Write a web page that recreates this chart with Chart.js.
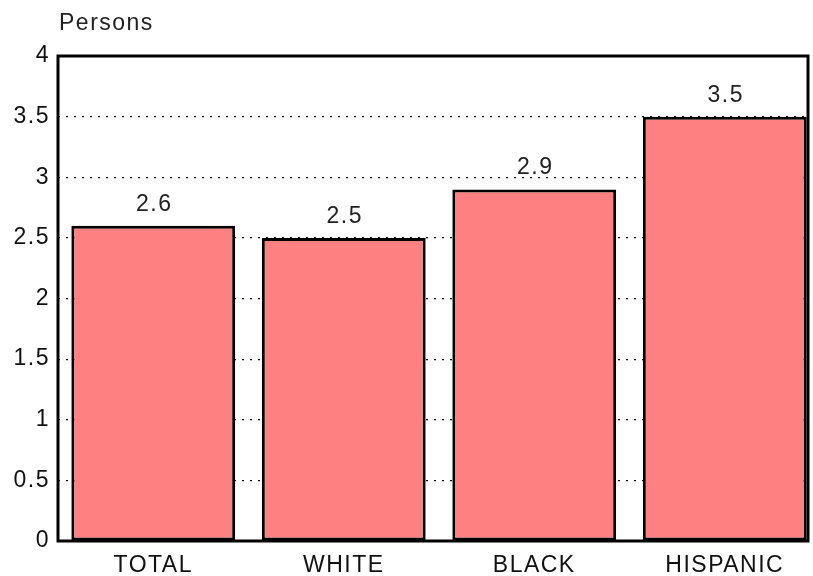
<!DOCTYPE html>
<html>
<head>
<meta charset="utf-8">
<script src="https://cdn.jsdelivr.net/npm/chart.js@4"></script>
<style>
  html, body { margin: 0; padding: 0; background: #fff; overflow: hidden; }
  #wrap { width: 813px; height: 576px; overflow: hidden; }
</style>
</head>
<body>
<div id="wrap"><canvas id="myChart" width="825" height="576"></canvas></div>
<script>
const categories = ['TOTAL', 'WHITE', 'BLACK', 'HISPANIC'];
const persons = [2.6, 2.5, 2.9, 3.5];
const yTicks = [0, 0.5, 1, 1.5, 2, 2.5, 3, 3.5, 4];

const FONT = "'Liberation Sans', Arial, sans-serif";
const SPACING = '1.5px';

// wide letter spacing like the original, plus value labels, caption and frame
const extras = {
  id: 'extras',
  beforeDraw(chart) {
    chart.ctx.letterSpacing = SPACING;
  },
  afterDatasetsDraw(chart) {
    const ctx = chart.ctx;
    const area = chart.chartArea;
    const meta = chart.getDatasetMeta(0);
    // the frame closes at the visible page edge, the last bar nearly touches it
    const frameRight = document.getElementById('wrap').clientWidth - 5;
    ctx.save();
    ctx.letterSpacing = SPACING;
    ctx.font = '23px ' + FONT;
    ctx.fillStyle = '#222';
    ctx.textAlign = 'center';
    ctx.textBaseline = 'alphabetic';
    meta.data.forEach((bar, i) => {
      ctx.fillText(String(persons[i]), bar.x + 1, bar.y - 15);
    });
    ctx.textAlign = 'left';
    ctx.fillText('Persons', area.left + 1, area.top - 26);
    // hide grid beyond the frame
    ctx.fillStyle = '#fff';
    ctx.fillRect(frameRight + 2, area.top - 5, chart.width, area.bottom - area.top + 10);
    ctx.strokeStyle = '#000';
    ctx.lineWidth = 3;
    ctx.strokeRect(area.left, area.top, frameRight - area.left, area.bottom - area.top);
    ctx.restore();
  }
};

new Chart(document.getElementById('myChart'), {
  type: 'bar',
  data: {
    labels: categories,
    datasets: [{
      data: persons,
      backgroundColor: '#ff8080',
      borderColor: '#000',
      borderWidth: 3,
      borderSkipped: false,
      categoryPercentage: 1,
      barPercentage: 0.86
    }]
  },
  options: {
    responsive: false,
    animation: false,
    layout: { padding: { top: 56, right: 5, left: 0, bottom: 0 } },
    plugins: { legend: { display: false }, tooltip: { enabled: false } },
    scales: {
      x: {
        grid: { display: false },
        border: { display: false },
        ticks: { color: '#111', font: { family: FONT, size: 23 }, padding: 3 },
        afterFit: scale => { scale.height = 35; }
      },
      y: {
        min: 0,
        max: 4,
        afterBuildTicks: scale => { scale.ticks = yTicks.map(v => ({ value: v })); },
        grid: { color: '#000', lineWidth: 1.2, drawTicks: false },
        border: { display: false, dash: [2, 6] },
        ticks: {
          color: '#111',
          font: { family: FONT, size: 23 },
          padding: 8,
          callback: v => String(v)
        },
        afterFit: scale => { scale.width = 58; }
      }
    }
  },
  plugins: [extras]
});
</script>
</body>
</html>
